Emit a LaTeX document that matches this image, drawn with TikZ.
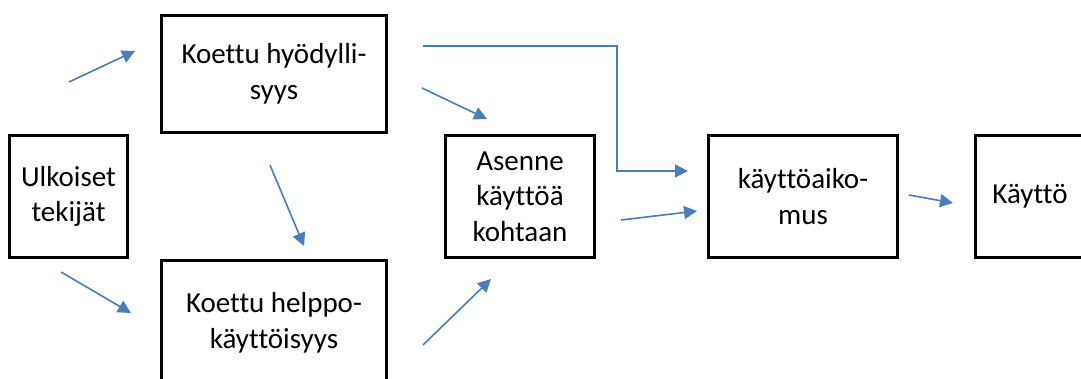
\documentclass[tikz,border=0pt]{standalone}
\usepackage{fontspec}
\setmainfont[Ligatures=NoCommon]{Carlito}
\usetikzlibrary{arrows.meta}
\definecolor{arrowblue}{HTML}{4A7EBB}
\tikzset{
  box/.style={draw=black, line width=2.6pt, inner sep=0pt, outer sep=0pt, align=center,
    font=\fontsize{29pt}{35.5pt}\selectfont},
  conn/.style={draw=arrowblue, line width=1.6pt, -{Triangle[length=13pt,width=13pt]}},
  elbow/.style={conn, line width=1.3pt}
}
\begin{document}
\begin{tikzpicture}[x=1pt,y=-1pt]
\useasboundingbox (0,0) rectangle (1081,378);
\clip (0,0) rectangle (1081,378);
% boxes
\node[box, minimum width=118.4pt, minimum height=122.4pt] (ulk) at (68.5,196.5) {Ulkoiset\\tekijät};
\node[box, minimum width=225.4pt, minimum height=117.4pt] (hyo) at (274,74) {Koettu hyödylli-\\syys};
\node[box, minimum width=225.4pt, minimum height=125.4pt] (hel) at (274,323) {Koettu helppo-\\käyttöisyys};
\node[box, minimum width=149.4pt, minimum height=122.4pt] (ase) at (520,196.5) {Asenne\\käyttöä\\kohtaan};
\node[box, minimum width=189.4pt, minimum height=122.4pt] (aik) at (803,196.5) {käyttöaiko-\\mus};
\node[box, minimum width=109.4pt, minimum height=122.4pt] (kay) at (1030,196.5) {Käyttö};
% connector end points
\coordinate (a1s) at (69,82);   \coordinate (a1e) at (135,51);
\coordinate (a2s) at (61,272);  \coordinate (a2e) at (131,313);
\coordinate (a3s) at (270,165); \coordinate (a3e) at (304,246);
\coordinate (a4s) at (422,88);  \coordinate (a4e) at (487,119);
\coordinate (a5s) at (423,46);  \coordinate (a5m) at (617,46); \coordinate (a5n) at (617,171); \coordinate (a5e) at (688,171);
\coordinate (a6s) at (423,345); \coordinate (a6e) at (491,279);
\coordinate (a7s) at (621,220); \coordinate (a7e) at (697,211);
\coordinate (a8s) at (909,195); \coordinate (a8e) at (953,203);
% connectors
\draw[conn] (a1s) -- (a1e);
\draw[conn] (a2s) -- (a2e);
\draw[conn] (a3s) -- (a3e);
\draw[conn] (a4s) -- (a4e);
\draw[elbow] (a5s) -- (a5m) -- (a5n) -- (a5e);
\draw[conn] (a6s) -- (a6e);
\draw[conn] (a7s) -- (a7e);
\draw[conn] (a8s) -- (a8e);
\end{tikzpicture}
\end{document}
